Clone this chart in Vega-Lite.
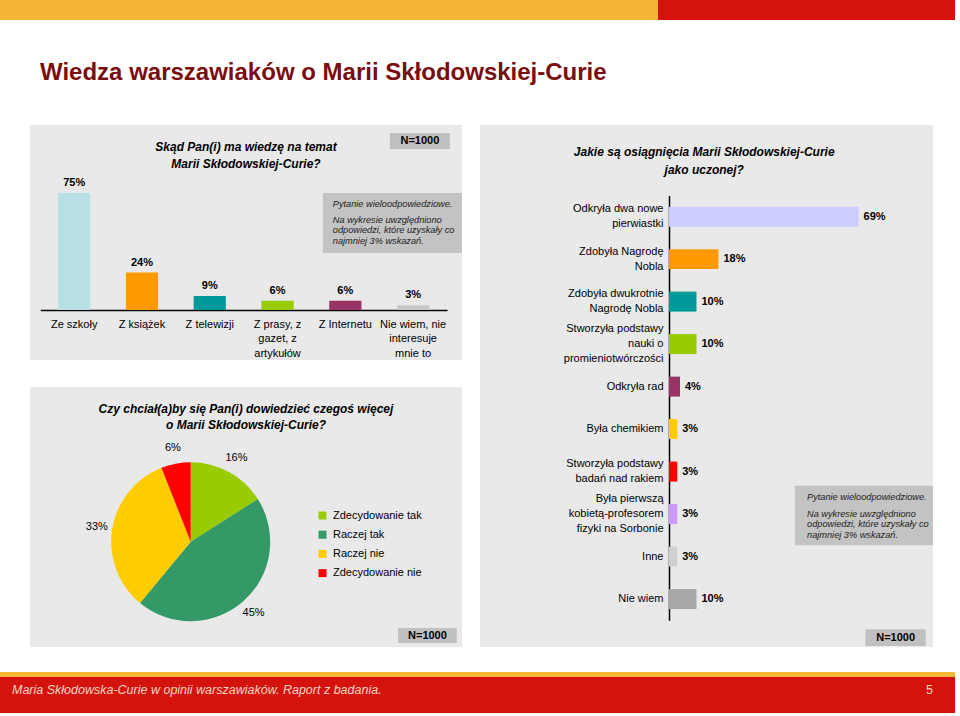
{
  "$schema": "https://vega.github.io/schema/vega-lite/v6.json",
  "padding": 0,
  "background": "#ffffff",
  "config": {
    "view": {"stroke": null},
    "font": "Liberation Sans",
    "text": {"font": "Liberation Sans"},
    "axis": {"labelFont": "Liberation Sans"},
    "legend": {"labelFont": "Liberation Sans"},
    "title": {"font": "Liberation Sans"}
  },
  "spacing": 25,
  "resolve": {"scale": {"color": "independent"}, "legend": {"color": "independent"}},
  "vconcat": [
    {
      "spacing": 40,
      "resolve": {"scale": {"color": "independent"}, "legend": {"color": "independent"}},
      "vconcat": [
        {
          "spacing": 0,
          "hconcat": [
            {
              "width": 658, "height": 20,
              "view": {"fill": "#f4b634"},
              "data": {"values": []},
              "mark": "rect",
              "title": {"text": "Wiedza warszawiaków o Marii Skłodowskiej-Curie", "orient": "bottom", "anchor": "start", "dx": 40, "offset": 41, "baseline": "top", "font": "Liberation Sans Narrow, Liberation Sans, sans-serif", "fontSize": 24, "fontWeight": "bold", "color": "#7a0d0d"}
            },
            {
              "width": 297, "height": 20,
              "view": {"fill": "#d4140c"},
              "data": {"values": []},
              "mark": "rect"
            }
          ]
        },
        {
          "spacing": 18,
          "resolve": {"scale": {"color": "independent"}, "legend": {"color": "independent"}},
          "hconcat": [
            {"width": 12, "height": 10, "data": {"values": []}, "mark": "rect"},
            {
              "spacing": 27,
              "resolve": {"scale": {"color": "independent"}, "legend": {"color": "independent"}},
              "vconcat": [
                {
                  "width": 432, "height": 235,
                  "view": {"fill": "#e9e9e9"},
                  "resolve": {"scale": {"x": "independent", "y": "independent"}},
                  "layer": [
                    {
                      "data": {"values": [
                        {"source": "Ze szkoły", "share": 0.75},
                        {"source": "Z książek", "share": 0.24},
                        {"source": "Z telewizji", "share": 0.09},
                        {"source": "Z prasy, z gazet, z artykułów", "share": 0.06},
                        {"source": "Z Internetu", "share": 0.06},
                        {"source": "Nie wiem, nie interesuje mnie to", "share": 0.03}
                      ]},
                      "encoding": {
                        "x": {"field": "source", "type": "nominal", "sort": null,
                          "scale": {"range": [10.3, 417], "paddingInner": 0.525, "paddingOuter": 0.2625},
                          "axis": {"orient": "bottom", "offset": -50, "title": null, "ticks": false, "tickSize": 0, "domainColor": "#000000", "domainWidth": 1.5, "labelAngle": 0, "labelFontSize": 11, "labelColor": "#000000", "labelPadding": 8, "labelLineHeight": 14.5, "labelBaseline": "top", "labelOverlap": false, "labelLimit": 200,
                            "labelExpr": "datum.value == 'Z prasy, z gazet, z artykułów' ? ['Z prasy, z', 'gazet, z', 'artykułów'] : datum.value == 'Nie wiem, nie interesuje mnie to' ? ['Nie wiem, nie', 'interesuje', 'mnie to'] : datum.label"}},
                        "y": {"field": "share", "type": "quantitative", "scale": {"domain": [0, 0.75], "range": [185, 68], "nice": false}, "axis": null}
                      },
                      "layer": [
                        {"mark": {"type": "bar"},
                         "encoding": {"color": {"field": "source", "type": "nominal", "sort": null, "legend": null,
                           "scale": {"domain": ["Ze szkoły", "Z książek", "Z telewizji", "Z prasy, z gazet, z artykułów", "Z Internetu", "Nie wiem, nie interesuje mnie to"],
                                     "range": ["#b9e0e5", "#ff9900", "#009999", "#99cc00", "#993366", "#c8c8c8"]}}}},
                        {"mark": {"type": "text", "dy": -5, "baseline": "bottom", "fontWeight": "bold", "fontSize": 11, "color": "#000000"},
                         "encoding": {"text": {"field": "share", "type": "quantitative", "format": ".0%"}}}
                      ]
                    },
                    {
                      "layer": [
                        {"data": {"values": [{"text": "Skąd Pan(i) ma wiedzę na temat\nMarii Skłodowskiej-Curie?"}]},
                         "mark": {"type": "text", "lineBreak": "\n", "lineHeight": 17, "baseline": "top", "align": "center", "fontSize": 12, "fontWeight": "bold", "fontStyle": "italic", "color": "#000000"},
                         "encoding": {"text": {"field": "text"},
                           "x": {"datum": 0.5, "type": "quantitative", "scale": {"domain": [0, 1]}, "axis": null},
                           "y": {"datum": 0.0715, "type": "quantitative", "scale": {"domain": [0, 1], "reverse": true}, "axis": null}}},
                        {"data": {"values": [{"text": "N=1000"}]},
                         "mark": {"type": "rect", "color": "#c0c0c0"},
                         "encoding": {
                           "x": {"datum": 0.833, "type": "quantitative", "scale": {"domain": [0, 1]}, "axis": null}, "x2": {"datum": 0.972},
                           "y": {"datum": 0.034, "type": "quantitative", "scale": {"domain": [0, 1], "reverse": true}, "axis": null}, "y2": {"datum": 0.102}}},
                        {"data": {"values": [{"text": "N=1000"}]},
                         "mark": {"type": "text", "align": "center", "baseline": "middle", "fontSize": 11, "fontWeight": "bold", "color": "#000000"},
                         "encoding": {"text": {"field": "text"},
                           "x": {"datum": 0.9025, "type": "quantitative", "scale": {"domain": [0, 1]}, "axis": null},
                           "y": {"datum": 0.068, "type": "quantitative", "scale": {"domain": [0, 1], "reverse": true}, "axis": null}}},
                        {"data": {"values": [{"text": "note"}]},
                         "mark": {"type": "rect", "color": "#c3c3c3"},
                         "encoding": {
                           "x": {"datum": 0.678, "type": "quantitative", "scale": {"domain": [0, 1]}, "axis": null}, "x2": {"datum": 1.0},
                           "y": {"datum": 0.289, "type": "quantitative", "scale": {"domain": [0, 1], "reverse": true}, "axis": null}, "y2": {"datum": 0.545}}},
                        {"data": {"values": [{"text": "Pytanie wieloodpowiedziowe."}]},
                         "mark": {"type": "text", "align": "left", "baseline": "middle", "fontSize": 9.2, "fontStyle": "italic", "color": "#222222"},
                         "encoding": {"text": {"field": "text"},
                           "x": {"datum": 0.701, "type": "quantitative", "scale": {"domain": [0, 1]}, "axis": null},
                           "y": {"datum": 0.336, "type": "quantitative", "scale": {"domain": [0, 1], "reverse": true}, "axis": null}}},
                        {"data": {"values": [{"text": "Na wykresie uwzględniono\nodpowiedzi, które uzyskały co\nnajmniej 3% wskazań."}]},
                         "mark": {"type": "text", "lineBreak": "\n", "lineHeight": 10.3, "align": "left", "baseline": "top", "fontSize": 9.2, "fontStyle": "italic", "color": "#222222"},
                         "encoding": {"text": {"field": "text"},
                           "x": {"datum": 0.701, "type": "quantitative", "scale": {"domain": [0, 1]}, "axis": null},
                           "y": {"datum": 0.388, "type": "quantitative", "scale": {"domain": [0, 1], "reverse": true}, "axis": null}}}
                      ]
                    }
                  ]
                },
                {
                  "width": 432, "height": 260,
                  "view": {"fill": "#e9e9e9"},
                  "layer": [
                    {
                      "data": {"values": [
                        {"answer": "Zdecydowanie tak", "share": 0.16},
                        {"answer": "Raczej tak", "share": 0.45},
                        {"answer": "Raczej nie", "share": 0.33},
                        {"answer": "Zdecydowanie nie", "share": 0.06}
                      ]},
                      "transform": [{"window": [{"op": "row_number", "as": "rank"}]}],
                      "encoding": {
                        "theta": {"field": "share", "type": "quantitative", "stack": true},
                        "order": {"field": "rank", "type": "quantitative"},
                        "x": {"datum": 0.372, "type": "quantitative", "scale": {"domain": [0, 1]}, "axis": null},
                        "y": {"datum": 0.595, "type": "quantitative", "scale": {"domain": [0, 1], "reverse": true}, "axis": null}
                      },
                      "layer": [
                        {"mark": {"type": "arc", "outerRadius": 79.5},
                         "encoding": {"color": {"field": "answer", "type": "nominal", "sort": null,
                           "scale": {"domain": ["Zdecydowanie tak", "Raczej tak", "Raczej nie", "Zdecydowanie nie"], "range": ["#99cc00", "#339966", "#ffcc00", "#ff0000"]},
                           "legend": {"orient": "none", "legendX": 287, "legendY": 123, "direction": "vertical", "title": null, "symbolType": "square", "symbolSize": 64, "symbolStrokeWidth": 0, "labelFontSize": 11, "labelColor": "#000000", "labelOffset": 5, "rowPadding": 7.2, "padding": 0}}}},
                        {"mark": {"type": "text", "radius": 95, "fontSize": 11, "color": "#000000"},
                         "encoding": {"text": {"field": "share", "type": "quantitative", "format": ".0%"}, "detail": {"field": "answer"}}}
                      ]
                    },
                    {"data": {"values": [{"text": "Czy chciał(a)by się Pan(i) dowiedzieć czegoś więcej\no Marii Skłodowskiej-Curie?"}]},
                     "mark": {"type": "text", "lineBreak": "\n", "lineHeight": 16.5, "baseline": "top", "align": "center", "fontSize": 12, "fontWeight": "bold", "fontStyle": "italic", "color": "#000000"},
                     "encoding": {"text": {"field": "text"},
                       "x": {"datum": 0.5, "type": "quantitative", "scale": {"domain": [0, 1]}, "axis": null},
                       "y": {"datum": 0.0646, "type": "quantitative", "scale": {"domain": [0, 1], "reverse": true}, "axis": null}}},
                    {"data": {"values": [{"text": "N=1000"}]},
                     "mark": {"type": "rect", "color": "#c0c0c0"},
                     "encoding": {
                       "x": {"datum": 0.852, "type": "quantitative", "scale": {"domain": [0, 1]}, "axis": null}, "x2": {"datum": 0.988},
                       "y": {"datum": 0.927, "type": "quantitative", "scale": {"domain": [0, 1], "reverse": true}, "axis": null}, "y2": {"datum": 0.985}}},
                    {"data": {"values": [{"text": "N=1000"}]},
                     "mark": {"type": "text", "align": "center", "baseline": "middle", "fontSize": 11, "fontWeight": "bold", "color": "#000000"},
                     "encoding": {"text": {"field": "text"},
                       "x": {"datum": 0.92, "type": "quantitative", "scale": {"domain": [0, 1]}, "axis": null},
                       "y": {"datum": 0.956, "type": "quantitative", "scale": {"domain": [0, 1], "reverse": true}, "axis": null}}}
                  ]
                }
              ]
            },
            {
              "width": 453, "height": 522,
              "view": {"fill": "#e9e9e9"},
              "resolve": {"scale": {"x": "independent", "y": "independent"}},
              "layer": [
                {
                  "data": {"values": [
                    {"achievement": "Odkryła dwa nowe pierwiastki", "share": 0.69},
                    {"achievement": "Zdobyła Nagrodę Nobla", "share": 0.18},
                    {"achievement": "Zdobyła dwukrotnie Nagrodę Nobla", "share": 0.10},
                    {"achievement": "Stworzyła podstawy nauki o promieniotwórczości", "share": 0.10},
                    {"achievement": "Odkryła rad", "share": 0.04},
                    {"achievement": "Była chemikiem", "share": 0.03},
                    {"achievement": "Stworzyła podstawy badań nad rakiem", "share": 0.03},
                    {"achievement": "Była pierwszą kobietą-profesorem fizyki na Sorbonie", "share": 0.03},
                    {"achievement": "Inne", "share": 0.03},
                    {"achievement": "Nie wiem", "share": 0.10}
                  ]},
                  "encoding": {
                    "y": {"field": "achievement", "type": "nominal", "sort": null,
                      "scale": {"range": [70.4, 495.3], "paddingInner": 0.53, "paddingOuter": 0.265},
                      "axis": {"orient": "left", "offset": -189, "title": null, "ticks": false, "tickSize": 0, "domainColor": "#000000", "domainWidth": 1.5, "labelFontSize": 11, "labelColor": "#000000", "labelPadding": 6, "labelLineHeight": 15, "labelOverlap": false, "labelLimit": 200,
                        "labelOffset": {"condition": [
                          {"test": "datum.value == 'Stworzyła podstawy nauki o promieniotwórczości' || datum.value == 'Była pierwszą kobietą-profesorem fizyki na Sorbonie'", "value": -15},
                          {"test": "datum.value == 'Odkryła dwa nowe pierwiastki' || datum.value == 'Zdobyła Nagrodę Nobla' || datum.value == 'Zdobyła dwukrotnie Nagrodę Nobla' || datum.value == 'Stworzyła podstawy badań nad rakiem'", "value": -7.5}
                        ], "value": 0},
                        "labelExpr": "datum.value == 'Odkryła dwa nowe pierwiastki' ? ['Odkryła dwa nowe', 'pierwiastki'] : datum.value == 'Zdobyła Nagrodę Nobla' ? ['Zdobyła Nagrodę', 'Nobla'] : datum.value == 'Zdobyła dwukrotnie Nagrodę Nobla' ? ['Zdobyła dwukrotnie', 'Nagrodę Nobla'] : datum.value == 'Stworzyła podstawy nauki o promieniotwórczości' ? ['Stworzyła podstawy', 'nauki o', 'promieniotwórczości'] : datum.value == 'Stworzyła podstawy badań nad rakiem' ? ['Stworzyła podstawy', 'badań nad rakiem'] : datum.value == 'Była pierwszą kobietą-profesorem fizyki na Sorbonie' ? ['Była pierwszą', 'kobietą-profesorem', 'fizyki na Sorbonie'] : datum.label"}},
                    "x": {"field": "share", "type": "quantitative", "scale": {"domain": [0, 1], "range": [189, 463.8], "nice": false}, "axis": null}
                  },
                  "layer": [
                    {"mark": {"type": "bar"},
                     "encoding": {"color": {"field": "achievement", "type": "nominal", "sort": null, "legend": null,
                       "scale": {"domain": ["Odkryła dwa nowe pierwiastki", "Zdobyła Nagrodę Nobla", "Zdobyła dwukrotnie Nagrodę Nobla", "Stworzyła podstawy nauki o promieniotwórczości", "Odkryła rad", "Była chemikiem", "Stworzyła podstawy badań nad rakiem", "Była pierwszą kobietą-profesorem fizyki na Sorbonie", "Inne", "Nie wiem"],
                                 "range": ["#ccccff", "#ff9900", "#009999", "#99cc00", "#993366", "#ffcc00", "#ff0000", "#cc99ff", "#d0d0d0", "#a8a8a8"]}}}},
                    {"mark": {"type": "text", "dx": 5, "align": "left", "baseline": "middle", "fontWeight": "bold", "fontSize": 11, "color": "#000000"},
                     "encoding": {"text": {"field": "share", "type": "quantitative", "format": ".0%"}}}
                  ]
                },
                {
                  "layer": [
                    {"data": {"values": [{"text": "Jakie są osiągnięcia Marii Skłodowskiej-Curie\njako uczonej?"}]},
                     "mark": {"type": "text", "lineBreak": "\n", "lineHeight": 18, "baseline": "top", "align": "center", "fontSize": 12, "fontWeight": "bold", "fontStyle": "italic", "color": "#000000"},
                     "encoding": {"text": {"field": "text"},
                       "x": {"datum": 0.495, "type": "quantitative", "scale": {"domain": [0, 1]}, "axis": null},
                       "y": {"datum": 0.0418, "type": "quantitative", "scale": {"domain": [0, 1], "reverse": true}, "axis": null}}},
                    {"data": {"values": [{"text": "note"}]},
                     "mark": {"type": "rect", "color": "#c3c3c3"},
                     "encoding": {
                       "x": {"datum": 0.695, "type": "quantitative", "scale": {"domain": [0, 1]}, "axis": null}, "x2": {"datum": 1.0},
                       "y": {"datum": 0.691, "type": "quantitative", "scale": {"domain": [0, 1], "reverse": true}, "axis": null}, "y2": {"datum": 0.805}}},
                    {"data": {"values": [{"text": "Pytanie wieloodpowiedziowe."}]},
                     "mark": {"type": "text", "align": "left", "baseline": "middle", "fontSize": 9.2, "fontStyle": "italic", "color": "#222222"},
                     "encoding": {"text": {"field": "text"},
                       "x": {"datum": 0.722, "type": "quantitative", "scale": {"domain": [0, 1]}, "axis": null},
                       "y": {"datum": 0.712, "type": "quantitative", "scale": {"domain": [0, 1], "reverse": true}, "axis": null}}},
                    {"data": {"values": [{"text": "Na wykresie uwzględniono\nodpowiedzi, które uzyskały co\nnajmniej 3% wskazań."}]},
                     "mark": {"type": "text", "lineBreak": "\n", "lineHeight": 10.7, "align": "left", "baseline": "top", "fontSize": 9.2, "fontStyle": "italic", "color": "#222222"},
                     "encoding": {"text": {"field": "text"},
                       "x": {"datum": 0.722, "type": "quantitative", "scale": {"domain": [0, 1]}, "axis": null},
                       "y": {"datum": 0.737, "type": "quantitative", "scale": {"domain": [0, 1], "reverse": true}, "axis": null}}},
                    {"data": {"values": [{"text": "N=1000"}]},
                     "mark": {"type": "rect", "color": "#c0c0c0"},
                     "encoding": {
                       "x": {"datum": 0.851, "type": "quantitative", "scale": {"domain": [0, 1]}, "axis": null}, "x2": {"datum": 0.984},
                       "y": {"datum": 0.966, "type": "quantitative", "scale": {"domain": [0, 1], "reverse": true}, "axis": null}, "y2": {"datum": 0.998}}},
                    {"data": {"values": [{"text": "N=1000"}]},
                     "mark": {"type": "text", "align": "center", "baseline": "middle", "fontSize": 11, "fontWeight": "bold", "color": "#000000"},
                     "encoding": {"text": {"field": "text"},
                       "x": {"datum": 0.9175, "type": "quantitative", "scale": {"domain": [0, 1]}, "axis": null},
                       "y": {"datum": 0.982, "type": "quantitative", "scale": {"domain": [0, 1], "reverse": true}, "axis": null}}}
                  ]
                }
              ]
            }
          ]
        }
      ]
    },
    {
      "spacing": 0,
      "vconcat": [
        {"width": 955, "height": 5, "view": {"fill": "#f4b634"}, "data": {"values": []}, "mark": "rect"},
        {
          "spacing": 0,
          "hconcat": [
            {"width": 900, "height": 36, "view": {"fill": "#d4140c"}, "data": {"values": []}, "mark": "rect",
             "title": {"text": "Maria Skłodowska-Curie w opinii warszawiaków. Raport z badania.", "orient": "top", "anchor": "start", "dx": 12, "offset": -29, "baseline": "alphabetic", "fontSize": 12.5, "fontStyle": "italic", "fontWeight": "normal", "color": "#f8d3c6"}},
            {"width": 55, "height": 36, "view": {"fill": "#d4140c"}, "data": {"values": []}, "mark": "rect",
             "title": {"text": "5", "orient": "top", "anchor": "end", "dx": -22, "offset": -29, "baseline": "alphabetic", "fontSize": 12.5, "fontWeight": "normal", "color": "#f8d3c6"}}
          ]
        }
      ]
    }
  ]
}
